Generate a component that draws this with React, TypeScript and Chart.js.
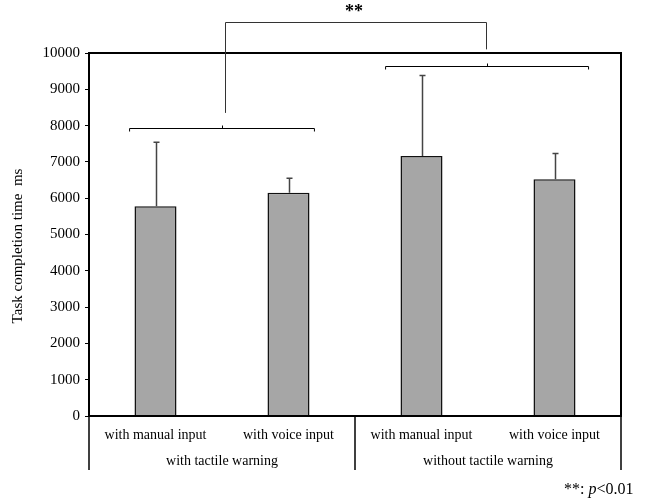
import React, { useEffect, useRef } from "react";
import { Chart, registerables } from "chart.js";
Chart.register(...registerables);

const categories = ["with manual input", "with voice input", "with manual input", "with voice input"];
const groups = ["with tactile warning", "without tactile warning"];
const means = [5780, 6150, 7160, 6520];
const errTop = [7540, 6550, 9380, 7230];
const yTicks = [0, 1000, 2000, 3000, 4000, 5000, 6000, 7000, 8000, 9000, 10000];
const groupBracketLevels = [7930, 9640];
const topBracketLevel = 10850;
const topBracketLegEnds = [8350, 10100];
const sigLabel = "**";

const FONT = "'Liberation Serif', 'Times New Roman', serif";

const overlay = {
  id: "overlay",
  afterDatasetsDraw(chart: any) {
    const ctx = chart.ctx;
    const x = chart.scales.x;
    const y = chart.scales.y;
    const ca = chart.chartArea;
    const cw = x.getPixelForValue(1) - x.getPixelForValue(0);
    ctx.save();
    // error bars
    ctx.strokeStyle = "#444";
    ctx.lineWidth = 1.5;
    errTop.forEach((v, i) => {
      const px = Math.round(x.getPixelForValue(i)) + 0.5;
      const y0 = y.getPixelForValue(means[i]);
      const y1 = y.getPixelForValue(v);
      ctx.beginPath();
      ctx.moveTo(px, y0);
      ctx.lineTo(px, y1);
      ctx.moveTo(px - 3, y1);
      ctx.lineTo(px + 3, y1);
      ctx.stroke();
    });
    // frame
    ctx.strokeStyle = "#000";
    ctx.lineWidth = 2;
    ctx.strokeRect(ca.left, ca.top, ca.right - ca.left, ca.bottom - ca.top);
    // category dividers
    ctx.lineWidth = 1.5;
    const divBottom = ca.bottom + 54;
    const divs = [ca.left, (x.getPixelForValue(1) + x.getPixelForValue(2)) / 2, ca.right];
    divs.forEach((d) => {
      ctx.beginPath();
      ctx.moveTo(Math.round(d), ca.bottom);
      ctx.lineTo(Math.round(d), divBottom);
      ctx.stroke();
    });
    // category labels
    ctx.fillStyle = "#000";
    ctx.font = "14px " + FONT;
    ctx.textAlign = "center";
    ctx.textBaseline = "middle";
    categories.forEach((c, i) => {
      ctx.fillText(c, x.getPixelForValue(i), ca.bottom + 19);
    });
    groups.forEach((g, gi) => {
      const cx = (x.getPixelForValue(gi * 2) + x.getPixelForValue(gi * 2 + 1)) / 2;
      ctx.fillText(g, cx, ca.bottom + 45);
    });
    // group brackets
    ctx.lineWidth = 1;
    ctx.strokeStyle = "#000";
    const ext = [[0.195, 0.195], [0.27, 0.256]];
    const centers: number[] = [];
    groupBracketLevels.forEach((lv, gi) => {
      const xl = x.getPixelForValue(gi * 2) - ext[gi][0] * cw;
      const xr = x.getPixelForValue(gi * 2 + 1) + ext[gi][1] * cw;
      const py = Math.round(y.getPixelForValue(lv)) + 0.5;
      const cxm = Math.round((xl + xr) / 2) + 0.5;
      centers.push(cxm);
      ctx.beginPath();
      ctx.moveTo(xl, py + 3);
      ctx.lineTo(xl, py);
      ctx.lineTo(xr, py);
      ctx.lineTo(xr, py + 3);
      ctx.moveTo(cxm, py);
      ctx.lineTo(cxm, py - 3);
      ctx.stroke();
    });
    // top bracket
    ctx.strokeStyle = "#333";
    const ty = Math.round(y.getPixelForValue(topBracketLevel)) + 0.5;
    const lx = centers[0] + 3;
    const rx = centers[1] - 1;
    ctx.beginPath();
    ctx.moveTo(lx, y.getPixelForValue(topBracketLegEnds[0]));
    ctx.lineTo(lx, ty);
    ctx.lineTo(rx, ty);
    ctx.lineTo(rx, y.getPixelForValue(topBracketLegEnds[1]));
    ctx.stroke();
    ctx.fillStyle = "#000";
    ctx.font = "bold 18px " + FONT;
    ctx.textBaseline = "middle";
    ctx.fillText(sigLabel, (lx + rx) / 2 - 2, 12);
    // y title
    ctx.save();
    ctx.translate(18, 246);
    ctx.rotate(-Math.PI / 2);
    ctx.font = "15px " + FONT;
    ctx.fillText("Task completion time  ms", 0, 0);
    ctx.restore();
    // footnote
    ctx.textAlign = "left";
    ctx.font = "16px " + FONT;
    const a = "**: ";
    const fx = 564;
    const fy = 490;
    ctx.fillText(a, fx, fy);
    const aw = ctx.measureText(a).width;
    ctx.font = "italic 16px " + FONT;
    ctx.fillText("p", fx + aw, fy);
    const pw = ctx.measureText("p").width;
    ctx.font = "16px " + FONT;
    ctx.fillText("<0.01", fx + aw + pw, fy);
    ctx.restore();
  },
};

export default function App() {
  const ref = useRef<HTMLCanvasElement>(null);
  useEffect(() => {
    if (!ref.current) return;
    const chart = new Chart(ref.current, {
      type: "bar",
      data: {
        labels: categories,
        datasets: [
          {
            data: means,
            backgroundColor: "#A6A6A6",
            borderColor: "#111",
            borderWidth: 1.5,
            barPercentage: 0.316,
            categoryPercentage: 1,
          },
        ],
      },
      options: {
        responsive: false,
        animation: false,
        layout: { padding: { top: 53, right: 27, bottom: 86, left: 0 } },
        plugins: { legend: { display: false }, tooltip: { enabled: false } },
        scales: {
          x: { display: false, offset: true },
          y: {
            min: 0,
            max: 10000,
            afterFit: (s: any) => {
              s.width = 89;
            },
            afterBuildTicks: (s: any) => {
              s.ticks = yTicks.map((v) => ({ value: v }));
            },
            ticks: {
              color: "#000",
              padding: 5,
              font: { family: FONT, size: 15 },
              callback: (v: any) => String(v),
            },
            grid: { display: true, drawOnChartArea: false, drawTicks: true, tickLength: 4, color: "#000" },
            border: { display: true, color: "#000", width: 2 },
          },
        },
      },
      plugins: [overlay],
    });
    return () => chart.destroy();
  }, []);
  return (
    <div style={{ position: "absolute", left: 0, top: 0, width: 648, height: 502, background: "#fff" }}>
      <canvas ref={ref} width={648} height={502} />
    </div>
  );
}
